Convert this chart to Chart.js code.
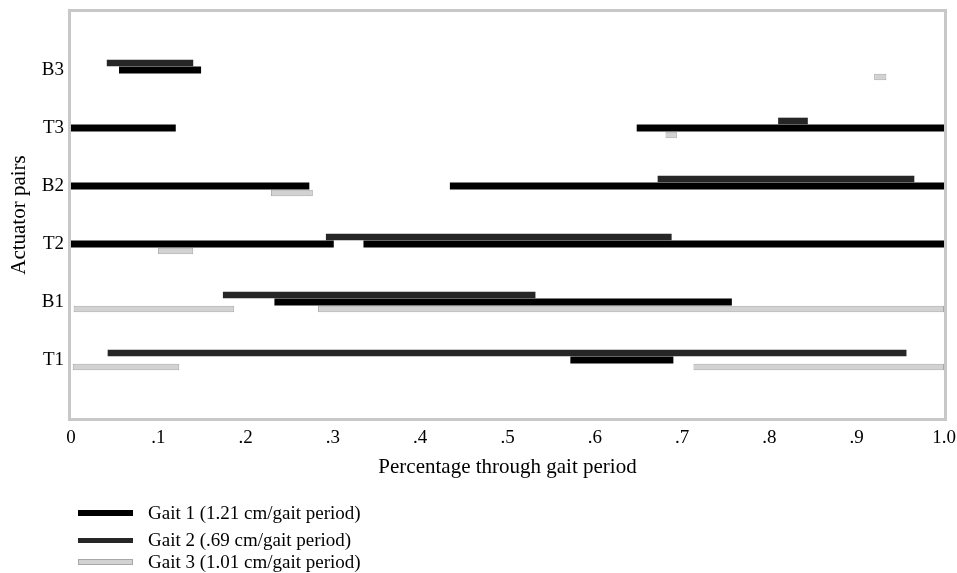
<!DOCTYPE html>
<html>
<head>
<meta charset="utf-8">
<script src="https://cdn.jsdelivr.net/npm/chart.js@4/dist/chart.umd.min.js"></script>
<style>
html,body{margin:0;padding:0;background:#fff;}
#wrap{position:relative;width:957px;height:573px;overflow:hidden;}
#c{position:absolute;left:0;top:0;}
.sw{position:absolute;left:78px;width:55px;box-sizing:border-box;}
.lt{position:absolute;left:148px;white-space:nowrap;line-height:20px;font-family:"Liberation Serif","Times New Roman",serif;font-size:19px;color:#000;}
</style>
</head>
<body>
<div id="wrap">
<canvas id="c" width="957" height="573"></canvas>
<div id="legend"></div>
</div>
<script>
// ---- data ----
const pairLabels = ['', 'B3', 'T3', 'B2', 'T2', 'B1', 'T1', ''];
const xTickLabels = ['0', '.1', '.2', '.3', '.4', '.5', '.6', '.7', '.8', '.9', '1.0'];
const gaitNames = ['Gait 1 (1.21 cm/gait period)', 'Gait 2 (.69 cm/gait period)', 'Gait 3 (1.01 cm/gait period)'];

const gait1Pair  = ['B3', 'T3', 'T3', 'B2', 'B2', 'T2', 'T2', 'B1', 'T1'];
const gait1Start = [0.055, 0, 0.648, 0, 0.434, 0, 0.335, 0.233, 0.572];
const gait1End   = [0.149, 0.12, 1, 0.273, 1, 0.301, 1, 0.757, 0.69];

const gait2Pair  = ['B3', 'T3', 'B2', 'T2', 'B1', 'T1'];
const gait2Start = [0.041, 0.81, 0.672, 0.292, 0.174, 0.042];
const gait2End   = [0.14, 0.844, 0.966, 0.688, 0.532, 0.957];

const gait3Pair  = ['B3', 'T3', 'B2', 'T2', 'B1', 'B1', 'T1', 'T1'];
const gait3Start = [0.92, 0.681, 0.229, 0.0995, 0.003, 0.283, 0.002, 0.713];
const gait3End   = [0.934, 0.694, 0.277, 0.14, 0.187, 1, 0.124, 1];

// ---- build ----
function segs(pairs, s, e) {
  return pairs.map((p, i) => ({ y: p, x: [s[i], e[i]] }));
}
const serif = '"Liberation Serif", "Times New Roman", serif';
Chart.defaults.font.family = serif;
Chart.defaults.color = '#000';

const styles = [
  { bg: '#000000', border: '#000000', bw: 0, bp: 1.0, order: 1 },
  { bg: '#262626', border: '#262626', bw: 0, bp: 0.95, order: 0 },
  { bg: '#d2d2d2', border: '#a8a8a8', bw: 1, bp: 0.9, order: 2 }
];
const segData = [
  segs(gait1Pair, gait1Start, gait1End),
  segs(gait2Pair, gait2Start, gait2End),
  segs(gait3Pair, gait3Start, gait3End)
];

const datasets = gaitNames.map((name, i) => ({
  label: name,
  data: segData[i],
  backgroundColor: styles[i].bg,
  borderColor: styles[i].border,
  borderWidth: styles[i].bw,
  borderSkipped: false,
  barPercentage: styles[i].bp,
  categoryPercentage: 21 / 58,
  order: styles[i].order
}));

const framePlugin = {
  id: 'frame',
  beforeDatasetsDraw(chart) {
    const { ctx, chartArea: a } = chart;
    ctx.save();
    ctx.strokeStyle = '#c8c8c8';
    ctx.lineWidth = 3;
    ctx.strokeRect(a.left - 1.5, a.top - 1.5, a.right - a.left + 3, a.bottom - a.top + 3);
    ctx.restore();
  }
};

new Chart(document.getElementById('c'), {
  type: 'bar',
  data: { labels: pairLabels, datasets },
  options: {
    indexAxis: 'y',
    responsive: false,
    animation: false,
    layout: { padding: { left: 0, right: 13, top: 12, bottom: 93 } },
    plugins: { legend: { display: false }, tooltip: { enabled: false } },
    scales: {
      x: {
        type: 'linear', min: 0, max: 1,
        grid: { display: false, drawTicks: false },
        border: { display: false },
        ticks: {
          stepSize: 0.1, padding: 9, color: '#000',
          font: { family: serif, size: 19 },
          callback: (v, i) => xTickLabels[i]
        },
        title: {
          display: true, text: 'Percentage through gait period', color: '#000',
          font: { family: serif, size: 21 }, padding: { top: 0, bottom: 0 }
        },
        afterFit: s => { s.height = 62; s.paddingLeft = 0; s.paddingRight = 0; }
      },
      y: {
        type: 'category', offset: false,
        grid: { display: false, drawTicks: false },
        border: { display: false },
        ticks: { padding: 7, color: '#000', autoSkip: false, font: { family: serif, size: 19 } },
        title: {
          display: true, text: 'Actuator pairs', color: '#000',
          font: { family: serif, size: 21 }, padding: { top: 7, bottom: 0 }
        },
        afterFit: s => { s.width = 71; s.paddingTop = 0; s.paddingBottom = 0; }
      }
    }
  },
  plugins: [framePlugin]
});

// ---- HTML legend (one row per gait) ----
const legendRowsY = [513, 540, 562];
const swatchH = [6, 5, 6];
const legend = document.getElementById('legend');
gaitNames.forEach((name, i) => {
  const sw = document.createElement('div');
  sw.className = 'sw';
  sw.style.top = (legendRowsY[i] - swatchH[i] / 2) + 'px';
  sw.style.height = swatchH[i] + 'px';
  sw.style.background = styles[i].bg;
  if (styles[i].bw) sw.style.border = '1px solid ' + styles[i].border;
  legend.appendChild(sw);
  const t = document.createElement('div');
  t.className = 'lt';
  t.style.top = (legendRowsY[i] - 10) + 'px';
  t.textContent = name;
  legend.appendChild(t);
});
</script>
</body>
</html>
